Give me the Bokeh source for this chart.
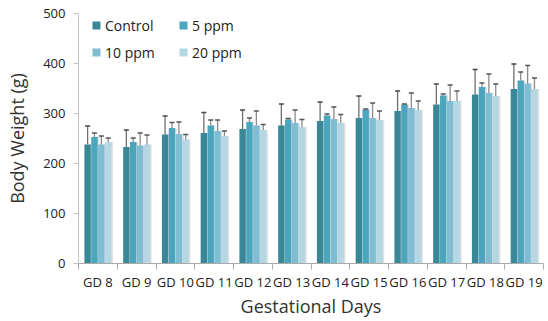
from bokeh.plotting import figure
from bokeh.models import ColumnDataSource, Range1d, FixedTicker, Legend, LegendItem
from bokeh.embed import file_html
from bokeh.resources import INLINE

categories = ["GD 8", "GD 9", "GD 10", "GD 11", "GD 12", "GD 13",
              "GD 14", "GD 15", "GD 16", "GD 17", "GD 18", "GD 19"]
series_names = ["Control", "5 ppm", "10 ppm", "20 ppm"]
control = [238, 233, 258, 261, 269, 276, 285, 291, 305, 318, 338, 349]
control_sd = [37, 34, 37, 41, 38, 43, 38, 44, 40, 41, 50, 50]
ppm5 = [253, 243, 271, 276, 283, 288, 296, 308, 318, 336, 353, 366]
ppm5_sd = [8, 8, 11, 11, 8, 2, 3, 1, 1, 3, 8, 17]
ppm10 = [238, 236, 259, 265, 276, 281, 289, 291, 311, 325, 341, 360]
ppm10_sd = [17, 25, 24, 22, 29, 26, 24, 30, 30, 32, 38, 36]
ppm20 = [243, 238, 248, 255, 267, 273, 281, 287, 307, 325, 335, 349]
ppm20_sd = [8, 19, 10, 10, 11, 15, 17, 18, 18, 20, 24, 22]
y_ticks = [0, 100, 200, 300, 400, 500]

colors = ["#3a8798", "#4aa5bd", "#7fbdd2", "#b5d7e3"]
err_colors = ["#6e6e6e", "#8a8a8a", "#8a8a8a", "#8a8a8a"]
cap_colors = ["#444444", "#555555", "#555555", "#555555"]
means = [control, ppm5, ppm10, ppm20]
sds = [control_sd, ppm5_sd, ppm10_sd, ppm20_sd]
offsets = [-0.265, -0.088, 0.09, 0.267]
bw = 0.165
FONT = "Open Sans"

n = len(categories)
p = figure(frame_width=465, frame_height=250, output_backend="svg", toolbar_location=None,
           x_range=Range1d(0, n), y_range=Range1d(0, 500),
           min_border_left=78, min_border_right=5, min_border_top=13, min_border_bottom=10)
p.outline_line_color = None
p.xgrid.visible = False
p.ygrid.visible = False
p.background_fill_color = "white"
p.border_fill_color = "white"

renderers = []
for k in range(4):
    xs = [i + 0.5 + offsets[k] for i in range(n)]
    tops = [m + s for m, s in zip(means[k], sds[k])]
    src = ColumnDataSource(dict(x=xs, sx=[x + 0.04 for x in xs], top=means[k], etop=tops,
                                cl=[x - 0.065 for x in xs], cr=[x + 0.065 for x in xs]))
    p.vbar(x="sx", top="top", width=bw, bottom=0, source=src,
           fill_color="#d8d8d8", line_color=None, fill_alpha=0.8)
    r = p.vbar(x="x", top="top", width=bw, bottom=0, source=src,
               fill_color=colors[k], line_color=None)
    p.segment(x0="x", y0="top", x1="x", y1="etop", source=src,
              line_color=err_colors[k], line_width=1.3)
    p.segment(x0="cl", y0="etop", x1="cr", y1="etop", source=src,
              line_color=cap_colors[k], line_width=1.3)
    renderers.append(r)

# legend fills column-first: order so rows read Control, 5 ppm / 10 ppm, 20 ppm
order = [0, 2, 1, 3]
items = [LegendItem(label=series_names[k], renderers=[renderers[k]]) for k in order]
legend = Legend(items=items, ncols=2, location=(13, 201),
                background_fill_alpha=0, border_line_color=None,
                label_text_font=FONT, label_text_font_size="14px", label_text_color="#222222",
                glyph_width=10, glyph_height=10, label_standoff=4, label_width=66,
                label_height=20, spacing=7, padding=2, margin=0)
p.add_layout(legend)

# axes
p.xaxis.ticker = FixedTicker(ticks=[i + 0.5 for i in range(n)],
                             minor_ticks=list(range(n + 1)))
p.xaxis.major_label_overrides = {i + 0.5: c for i, c in enumerate(categories)}
p.xaxis.major_tick_line_color = None
p.xaxis.major_tick_out = 0
p.xaxis.major_tick_in = 0
p.xaxis.minor_tick_line_color = "#aaaaaa"
p.xaxis.minor_tick_out = 6
p.xaxis.minor_tick_in = 0
p.xaxis.axis_line_color = "#aaaaaa"
p.xaxis.major_label_text_font = FONT
p.xaxis.major_label_text_font_size = "13px"
p.xaxis.major_label_text_color = "#222222"
p.xaxis.major_label_standoff = 3
p.xaxis.axis_label = "Gestational Days"
p.xaxis.axis_label_text_font = FONT
p.xaxis.axis_label_text_font_size = "18px"
p.xaxis.axis_label_text_font_style = "normal"
p.xaxis.axis_label_text_color = "#333333"
p.xaxis.axis_label_standoff = 0

p.yaxis.ticker = FixedTicker(ticks=y_ticks, minor_ticks=[])
p.yaxis.axis_line_color = "#c4c4c4"
p.yaxis.major_tick_line_color = "#c4c4c4"
p.yaxis.major_tick_out = 5
p.yaxis.major_tick_in = 0
p.yaxis.minor_tick_line_color = None
p.yaxis.major_label_text_font = FONT
p.yaxis.major_label_text_font_size = "13px"
p.yaxis.major_label_text_color = "#222222"
p.yaxis.major_label_standoff = 8
p.yaxis.axis_label = "Body Weight (g)"
p.yaxis.axis_label_text_font = FONT
p.yaxis.axis_label_text_font_size = "18px"
p.yaxis.axis_label_text_font_style = "normal"
p.yaxis.axis_label_text_color = "#333333"
p.yaxis.axis_label_standoff = 11

open("out.html", "w").write(file_html(p, INLINE))
